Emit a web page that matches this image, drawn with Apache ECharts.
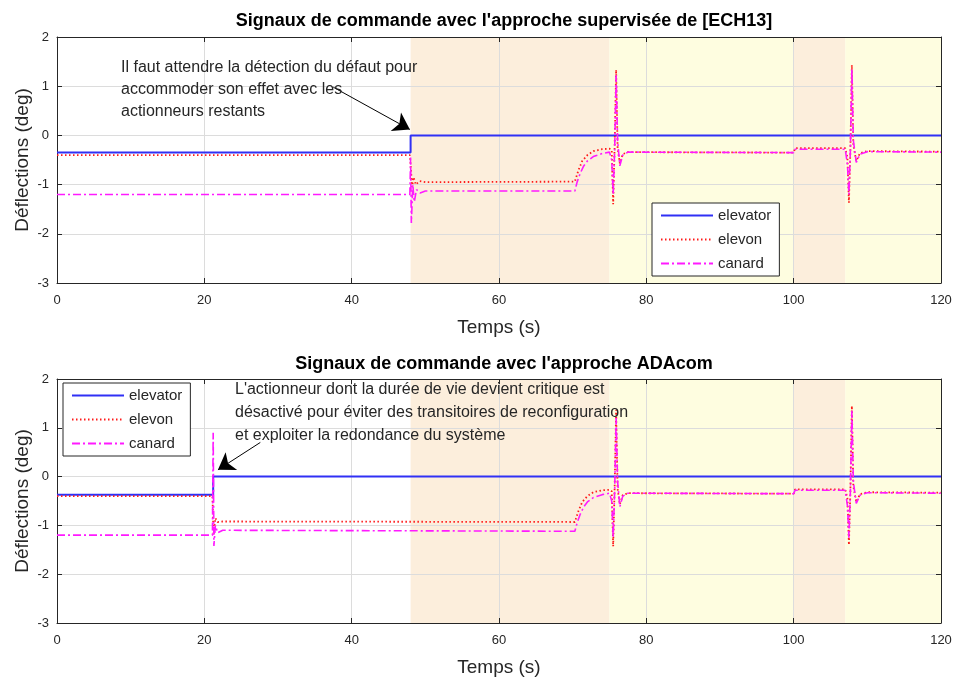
<!DOCTYPE html>
<html><head><meta charset="utf-8">
<script src="https://cdn.jsdelivr.net/npm/echarts@6/dist/echarts.min.js"></script>
<style>html,body{margin:0;padding:0;background:#fff}#c{width:955px;height:679px}</style>
</head><body><div id="c"></div>
<script>
// ---------- data ----------
const seriesNames = ['elevator', 'elevon', 'canard'];

// shaded time windows (s)
const zonesFault = [[48, 75], [100, 107]];
const zonesRecov = [[75, 100], [107, 120]];

// top plot : supervised approach [ECH13]
const topElevator = [[0, -0.35], [48, -0.35], [48, 0], [120, 0]];
const topElevon = [[0, -0.4], [47.9, -0.4], [48.05, -0.7], [48.2, -1.05], [48.4, -0.85], [48.7, -1.0], [49.2, -0.93], [50, -0.95], [70.3, -0.94],
  [70.8, -0.7], [71.3, -0.52], [72, -0.4], [72.8, -0.32], [74, -0.28], [75, -0.27], [75.3, -0.3], [75.5, -1.4], [75.7, -0.2], [75.9, 1.33],
  [76.1, -0.25], [76.4, -0.57], [76.8, -0.38], [77.5, -0.34], [100, -0.35], [100.2, -0.26], [107, -0.26], [107.3, -0.45], [107.5, -1.37],
  [107.7, -0.3], [107.9, 1.43], [108.1, -0.2], [108.5, -0.52], [109, -0.36], [110, -0.32], [120, -0.33]];
const topCanard = [[0, -1.2], [47.9, -1.2], [48.0, -0.45], [48.1, -1.78], [48.3, -1.0], [48.5, -1.35], [48.8, -1.1], [49.3, -1.17], [50, -1.13], [70.3, -1.13],
  [70.6, -0.95], [71, -0.78], [71.5, -0.62], [72, -0.52], [72.8, -0.43], [74, -0.37], [75, -0.34], [75.3, -0.5], [75.5, -1.2], [75.7, -0.3], [75.9, 1.22],
  [76.1, -0.1], [76.4, -0.62], [76.8, -0.4], [77.5, -0.34], [100, -0.35], [100.2, -0.28], [107, -0.28], [107.3, -0.6], [107.5, -1.2],
  [107.7, -0.3], [107.9, 1.35], [108.1, -0.1], [108.5, -0.55], [109, -0.38], [110, -0.33], [120, -0.34]];

// bottom plot : ADAcom approach
const botElevator = [[0, -0.37], [21.2, -0.37], [21.2, 0], [120, 0]];
const botElevon = [[0, -0.4], [21.1, -0.4], [21.25, -1.2], [21.5, -0.85], [21.8, -0.93], [22.5, -0.92], [70.3, -0.93],
  [70.8, -0.7], [71.3, -0.52], [72, -0.4], [72.8, -0.32], [74, -0.28], [75, -0.27], [75.3, -0.3], [75.5, -1.43], [75.7, -0.2], [75.9, 1.37],
  [76.1, -0.25], [76.4, -0.57], [76.8, -0.38], [77.5, -0.34], [100, -0.35], [100.2, -0.26], [107, -0.26], [107.3, -0.45], [107.5, -1.4],
  [107.7, -0.3], [107.9, 1.45], [108.1, -0.2], [108.5, -0.52], [109, -0.36], [110, -0.32], [120, -0.33]];
const botCanard = [[0, -1.2], [21.1, -1.2], [21.2, 0.9], [21.3, -1.42], [21.5, -1.0], [21.8, -1.15], [22.5, -1.1], [70.3, -1.12],
  [70.6, -0.95], [71, -0.78], [71.5, -0.62], [72, -0.52], [72.8, -0.43], [74, -0.37], [75, -0.34], [75.3, -0.5], [75.5, -1.25], [75.7, -0.3], [75.9, 1.2],
  [76.1, -0.1], [76.4, -0.62], [76.8, -0.4], [77.5, -0.34], [100, -0.35], [100.2, -0.28], [107, -0.28], [107.3, -0.6], [107.5, -1.25],
  [107.7, -0.3], [107.9, 1.35], [108.1, -0.1], [108.5, -0.55], [109, -0.38], [110, -0.33], [120, -0.34]];

// annotation arrows [from, to] in data coords
const topArrow = [[37.5, 0.98], [47.9, 0.12]];
const botArrow = [[27.6, 0.70], [21.85, 0.14]];

const titles = ["Signaux de commande avec l'approche supervisée de [ECH13]", "Signaux de commande avec l'approche ADAcom"];
const notes = ["Il faut attendre la détection du défaut pour\naccommoder son effet avec les\nactionneurs restants",
  "L'actionneur dont la durée de vie devient critique est\ndésactivé pour éviter des transitoires de reconfiguration\net exploiter la redondance du système"];

// ---------- styles ----------
const FONT = "'Liberation Sans', Arial, sans-serif";
const TXT = '#262626';
const GRIDC = '#DCDCDC';
const C_FAULT = '#FCEEDC';
const C_RECOV = '#FEFDE0';
const lineStyles = {
  elevator: { color: '#3030F5', width: 2, type: 'solid' },
  elevon: { color: '#FF1A1A', width: 1.8, type: [1.5, 2.5] },
  canard: { color: '#FF1AFF', width: 1.6, type: [8, 3, 2, 3] }
};

const chart = echarts.init(document.getElementById('c'), null, { renderer: 'canvas' });

function xAxisCfg(gi, main) {
  return {
    gridIndex: gi, type: 'value', min: 0, max: 120, interval: 20, z: 2,
    position: main ? 'bottom' : 'top',
    name: main ? 'Temps (s)' : '', nameLocation: 'middle', nameGap: 35, nameMoveOverlap: false,
    nameTextStyle: { fontFamily: FONT, fontSize: 19, color: TXT },
    axisLine: { show: true, onZero: false, lineStyle: { color: TXT } },
    axisTick: { show: true, inside: true, length: 5, lineStyle: { color: TXT } },
    axisLabel: { show: main, fontFamily: FONT, fontSize: 13, color: TXT, margin: 11 },
    splitLine: { show: main, lineStyle: { color: GRIDC } }
  };
}
function yAxisCfg(gi, main) {
  return {
    gridIndex: gi, type: 'value', min: -3, max: 2, interval: 1, z: 2,
    position: main ? 'left' : 'right',
    name: main ? 'Déflections (deg)' : '', nameLocation: 'middle', nameGap: 25, nameRotate: 90, nameMoveOverlap: false,
    nameTextStyle: { fontFamily: FONT, fontSize: 19, color: TXT },
    axisLine: { show: true, onZero: false, lineStyle: { color: TXT } },
    axisTick: { show: true, inside: true, length: 5, lineStyle: { color: TXT } },
    axisLabel: { show: main, fontFamily: FONT, fontSize: 13, color: TXT, margin: 8 },
    splitLine: { show: main, lineStyle: { color: GRIDC } }
  };
}
function areaData() {
  const d = [];
  zonesFault.forEach(z => d.push([{ xAxis: z[0], itemStyle: { color: C_FAULT } }, { xAxis: z[1] }]));
  zonesRecov.forEach(z => d.push([{ xAxis: z[0], itemStyle: { color: C_RECOV } }, { xAxis: z[1] }]));
  return d;
}
function plotSeries(gi, sets, arrow) {
  const out = [{
    name: 'zones' + gi, type: 'line', xAxisIndex: gi, yAxisIndex: gi, data: [], z: 1, silent: true,
    markArea: { silent: true, data: areaData(), itemStyle: { opacity: 1 } }
  }, {
    name: 'arrow' + gi, type: 'line', xAxisIndex: gi, yAxisIndex: gi, data: [], z: 8, silent: true,
    markLine: {
      silent: true, symbol: ['none', 'arrow'], symbolSize: 16, animation: false,
      lineStyle: { color: '#000', type: 'solid', width: 1 }, label: { show: false },
      data: [[{ coord: arrow[0] }, { coord: arrow[1] }]]
    }
  }];
  seriesNames.forEach((n, i) => {
    out.push({
      name: n, type: 'line', xAxisIndex: gi, yAxisIndex: gi, data: sets[i],
      symbol: 'none', showSymbol: false, z: 3 + i, animation: false,
      lineStyle: lineStyles[n], itemStyle: { color: lineStyles[n].color }
    });
  });
  return out;
}
function legendCfg(pos) {
  return Object.assign({
    orient: 'vertical', data: seriesNames,
    backgroundColor: '#fff', borderColor: TXT, borderWidth: 1, borderRadius: 0,
    padding: [5, 8, 5, 8], itemWidth: 52, itemHeight: 14, itemGap: 9,
    itemStyle: { opacity: 0 },
    textStyle: { fontFamily: FONT, fontSize: 15, color: TXT }, selectedMode: false, z: 10
  }, pos);
}

const option = {
  animation: false,
  backgroundColor: '#fff',
  title: [
    { text: titles[0], left: 499, top: 7, textAlign: 'center', textStyle: { fontFamily: FONT, fontSize: 18, fontWeight: 'bold', color: '#000' } },
    { text: titles[1], left: 499, top: 350, textAlign: 'center', textStyle: { fontFamily: FONT, fontSize: 18, fontWeight: 'bold', color: '#000' } }
  ],
  grid: [
    { left: 57, top: 37, width: 884, height: 246 },
    { left: 57, top: 379, width: 884, height: 244 }
  ],
  xAxis: [xAxisCfg(0, true), xAxisCfg(1, true), xAxisCfg(0, false), xAxisCfg(1, false)],
  yAxis: [yAxisCfg(0, true), yAxisCfg(1, true), yAxisCfg(0, false), yAxisCfg(1, false)],
  legend: [legendCfg({ left: 652, top: 203 }), legendCfg({ left: 63, top: 383 })],
  graphic: [
    { type: 'text', left: 121, top: 57, z: 10, style: { text: notes[0], font: '16px ' + FONT, fill: TXT, lineHeight: 22 } },
    { type: 'text', left: 235, top: 378, z: 10, style: { text: notes[1], font: '16px ' + FONT, fill: TXT, lineHeight: 23 } }
  ],
  series: [].concat(
    plotSeries(0, [topElevator, topElevon, topCanard], topArrow),
    plotSeries(1, [botElevator, botElevon, botCanard], botArrow)
  )
};
chart.setOption(option);
</script></body></html>
